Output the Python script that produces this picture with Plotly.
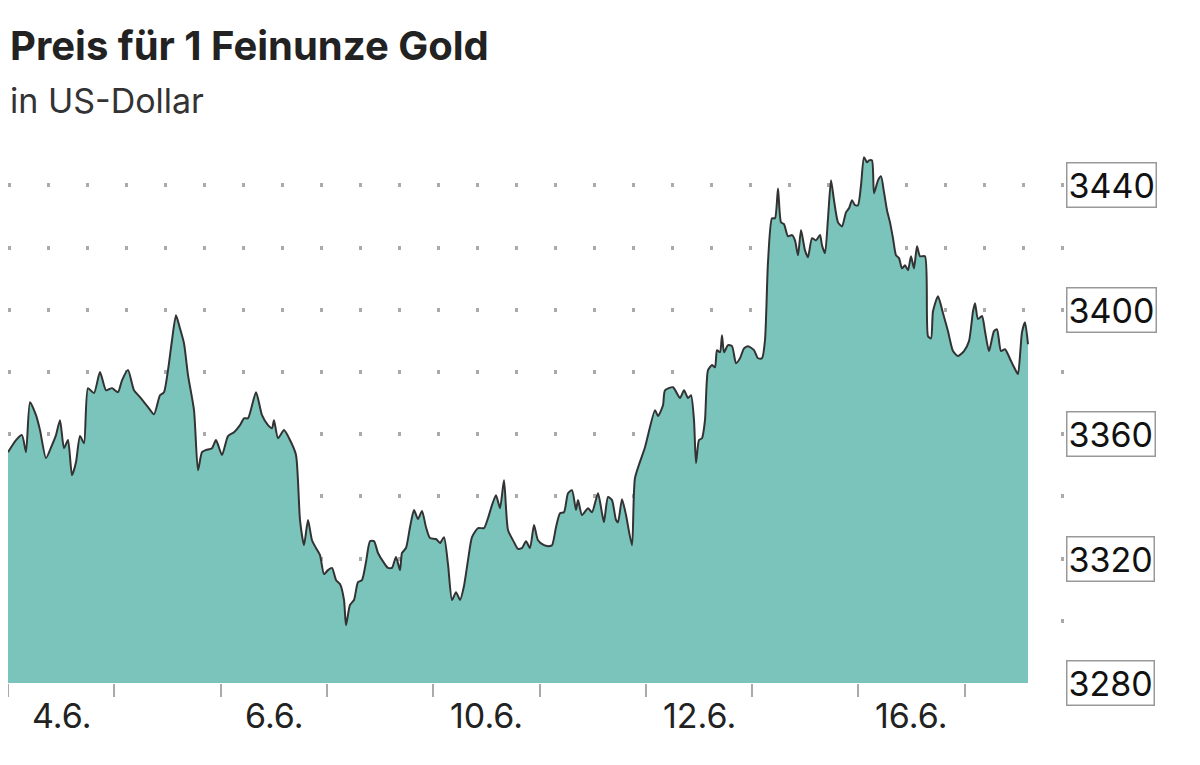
import plotly.graph_objects as go

# positions along the time axis (one trading day = 106.3 units)
T_POS = [0, 8, 14, 18, 22, 28, 32, 38, 44, 48, 52, 56, 60, 64, 68, 72, 76, 80, 86, 92,
         98, 104, 110, 114, 120, 126, 132, 140, 146, 152, 156, 160, 164, 168, 172, 176, 180, 186, 190, 194,
         198, 204, 208, 214, 220, 226, 232, 236, 240, 248, 254, 260, 264, 266, 270, 276, 282, 288, 292, 296,
         300, 304, 308, 312, 316, 320, 324, 328, 332, 336, 338, 342, 346, 350, 354, 358, 362, 366, 370, 376,
         380, 384, 388, 392, 394, 398, 402, 406, 410, 414, 418, 422, 428, 432, 436, 440, 444, 448, 452, 456,
         460, 464, 470, 476, 480, 484, 488, 492, 496, 500, 506, 510, 514, 518, 522, 526, 530, 536, 540, 544,
         548, 552, 556, 560, 564, 568, 570, 574, 580, 584, 590, 594, 596, 600, 604, 608, 610, 614, 618, 624,
         627, 637, 647, 650, 655, 657, 665, 672, 676, 680, 683, 686, 688, 691, 694, 697, 700, 704, 707, 709,
         712, 714, 716, 720, 724, 728, 732, 736, 740, 746, 750, 754, 757, 760, 764, 767, 770, 773, 776, 780,
         784, 787, 790, 793, 797, 800, 804, 808, 812, 814, 817, 820, 823, 826, 830, 834, 838, 841, 844, 847,
         850, 853, 856, 859, 861, 864, 866, 870, 873, 876, 879, 882, 885, 888, 891, 894, 897, 900, 903, 906,
         909, 912, 917, 920, 923, 925, 930, 935, 940, 945, 950, 956, 961, 965, 967, 970, 974, 977, 981, 986,
         989, 993, 997, 1003, 1008, 1010, 1014, 1017, 1020]

PRICE = [3354.2, 3358.1, 3359.7, 3354.2, 3370.3, 3366.1, 3361.3, 3352.3, 3356.5, 3359.7, 3364.5, 3355.5, 3358.1, 3346.8, 3351.0, 3359.4, 3357.1, 3374.8, 3373.2, 3380.0,
         3374.1, 3374.8, 3373.5, 3377.3, 3380.6, 3374.1, 3371.9, 3368.7, 3366.4, 3372.5, 3373.5, 3380.6, 3390.2, 3398.2, 3394.0, 3389.2, 3379.0, 3367.7, 3348.4, 3354.2,
         3354.9, 3355.5, 3358.1, 3353.3, 3359.4, 3360.6, 3362.9, 3365.1, 3365.1, 3373.5, 3366.1, 3362.9, 3361.9, 3364.5, 3358.7, 3361.3, 3358.1, 3353.3, 3332.4, 3324.3,
         3332.4, 3325.9, 3323.4, 3321.1, 3315.0, 3316.3, 3317.0, 3313.1, 3311.8, 3306.7, 3298.6, 3305.1, 3306.7, 3312.4, 3313.1, 3318.9, 3325.6, 3325.6, 3321.8, 3318.6,
         3317.0, 3317.0, 3320.5, 3316.3, 3321.8, 3323.4, 3330.1, 3335.6, 3332.7, 3335.3, 3330.1, 3326.6, 3326.3, 3325.0, 3326.9, 3318.2, 3306.7, 3309.2, 3306.7, 3311.2,
         3319.5, 3326.9, 3329.8, 3329.8, 3333.0, 3337.2, 3340.4, 3336.2, 3345.2, 3329.2, 3325.3, 3323.1, 3323.4, 3325.6, 3323.4, 3330.8, 3325.9, 3324.3, 3324.0, 3324.3,
         3330.1, 3334.6, 3334.9, 3341.0, 3342.0, 3335.6, 3338.8, 3334.0, 3336.2, 3334.9, 3341.0, 3334.6, 3331.7, 3339.8, 3338.8, 3332.4, 3331.7, 3339.1, 3334.0, 3324.3,
         3345.9, 3355.8, 3367.7, 3365.8, 3369.3, 3374.1, 3375.1, 3371.6, 3374.1, 3371.6, 3372.5, 3364.5, 3350.7, 3358.1, 3358.7, 3364.5, 3380.6, 3382.2, 3381.5, 3387.0,
         3386.3, 3391.8, 3386.3, 3388.6, 3388.3, 3382.8, 3384.4, 3387.6, 3388.3, 3387.0, 3384.4, 3384.4, 3390.2, 3415.3, 3429.4, 3429.4, 3439.0, 3428.1, 3427.5, 3423.6,
         3424.0, 3422.3, 3417.5, 3425.6, 3419.1, 3416.9, 3423.0, 3422.3, 3424.0, 3420.7, 3418.2, 3429.4, 3441.6, 3435.2, 3428.1, 3426.8, 3431.3, 3432.6, 3435.2, 3433.6,
         3433.6, 3440.0, 3449.0, 3447.4, 3448.0, 3448.0, 3437.4, 3441.6, 3442.9, 3437.8, 3432.0, 3428.1, 3423.0, 3417.5, 3416.6, 3413.3, 3414.3, 3412.7, 3417.2, 3413.3,
         3420.4, 3417.2, 3417.2, 3391.5, 3390.8, 3399.5, 3404.3, 3398.9, 3393.1, 3386.7, 3385.1, 3386.7, 3389.9, 3399.5, 3402.1, 3397.0, 3398.0, 3393.1, 3386.7, 3393.1,
         3393.7, 3386.7, 3387.3, 3383.5, 3380.3, 3379.3, 3392.8, 3396.0, 3388.9]

DAY_START = [0, 106.3, 212.6, 318.9, 425.2, 531.5, 637.8, 744.1, 850.4, 956.7]
LABELS = ["4.6.", "6.6.", "10.6.", "12.6.", "16.6."]
LABEL_POS = [53, 266, 478, 691, 903]
Y_TICKS = [3280, 3320, 3360, 3400, 3440]

FONT = "Inter, Roboto, sans-serif"

fig = go.Figure()
fig.add_trace(go.Scatter(
    x=T_POS, y=PRICE, mode="lines", line=dict(color="#333333", width=2, shape="spline", smoothing=0.6),
    fill="tozeroy", fillcolor="#7bc4bc", hoverinfo="skip", showlegend=False))

for lab, pos in zip(LABELS, LABEL_POS):
    fig.add_annotation(x=pos, y=0, xref="x", yref="paper", yanchor="top", yshift=-10,
                       text=lab, showarrow=False, font=dict(size=34, color="#222222", family=FONT))

for v in Y_TICKS:
    fig.add_annotation(x=1.0, xref="paper", y=v, yref="y", xanchor="left", xshift=-2,
                       text=str(v), showarrow=False, bordercolor="#999999", borderwidth=1.5,
                       borderpad=1, bgcolor="white", font=dict(size=34, color="#111111", family=FONT))

# title and subtitle
fig.add_annotation(x=0, y=1.1925, xref="paper", yref="paper", xanchor="left", yanchor="middle",
                   text="<b>Preis für 1 Feinunze Gold</b>", showarrow=False,
                   font=dict(size=40, color="#222222", family=FONT))
fig.add_annotation(x=0, y=1.0897, xref="paper", yref="paper", xanchor="left", yanchor="middle",
                   text="in US-Dollar", showarrow=False,
                   font=dict(size=34, color="#333333", family=FONT))

fig.update_layout(
    width=1184, height=750,
    margin=dict(l=0, r=124, t=140, b=75),
    paper_bgcolor="white", plot_bgcolor="white",
    xaxis=dict(range=[0, 1060], tickvals=DAY_START, showticklabels=False, ticks="outside",
               ticklen=13, tickcolor="#aaaaaa", tickwidth=2, showgrid=False, zeroline=False, showline=False),
    yaxis=dict(range=[3280, 3452], dtick=20, tick0=3280, showticklabels=False, showgrid=True,
               gridcolor="#aaaaaa", gridwidth=4, griddash="3px,36px", zeroline=False, showline=False),
)

fig.write_html("out.html")
